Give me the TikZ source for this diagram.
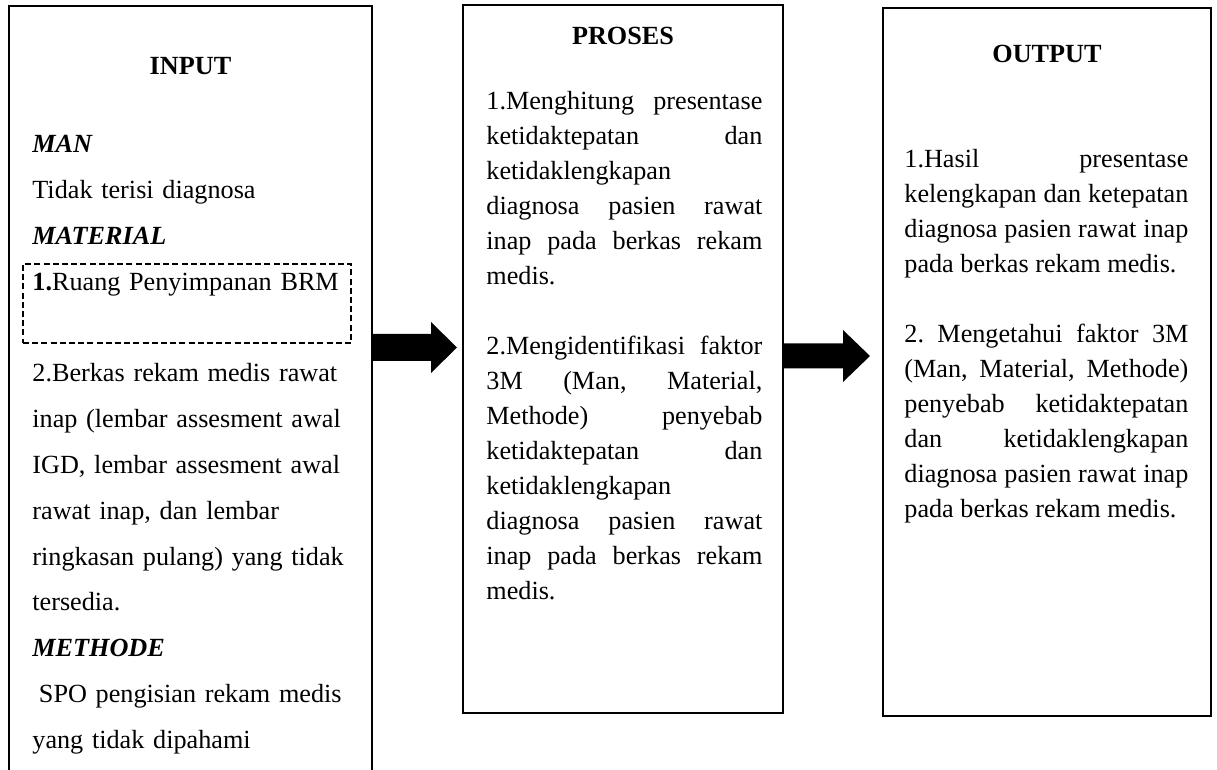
\documentclass[tikz,border=0pt]{standalone}
\usepackage{fontspec}
\setmainfont{Liberation Serif}
\hbadness=10000
\tolerance=10000
\hyphenpenalty=10000
\frenchspacing
\begin{document}
\begin{tikzpicture}[x=0.5pt, y=-0.5pt,
    box/.style={draw, line width=1pt, inner sep=0pt},
    title/.style={inner sep=0pt, anchor=base, font=\fontsize{13.1}{15}\selectfont\bfseries},
    body/.style={inner sep=0pt, anchor=base west, font=\fontsize{13.1}{17.5}\selectfont}]

    \useasboundingbox (0,0) rectangle (1217,770);

    % Boxes
    \node[box, minimum width=181.5pt, minimum height=450pt] (input) at (190.5,456) {};
    \node[box, minimum width=160pt, minimum height=354pt] (proses) at (623,359) {};
    \node[box, minimum width=164pt, minimum height=354pt] (output) at (1047,362) {};
    \node[draw, line width=0.75pt, dash pattern=on 3pt off 1.6pt, minimum width=164pt, minimum height=39.5pt] (brm) at (187,303.5) {};

    % Titles
    \node[title] (tin) at (190.5,75) {INPUT};
    \node[title] (tpro) at (623,45) {PROSES};
    \node[title] (tout) at (1047,63) {OUTPUT};

    % Input
    \node[body, text width=165pt, align=left, font=\fontsize{13.1}{22.9}\selectfont] (inlist) at (32,153) {%
        \textbf{\textit{MAN}}\\
        Tidak terisi diagnosa\\
        \textbf{\textit{MATERIAL}}\\
        \textbf{1.}Ruang Penyimpanan BRM\\[22.9pt]
        2.Berkas rekam medis rawat\\
        inap (lembar assesment awal\\
        IGD, lembar assesment awal\\
        rawat inap, dan lembar\\
        ringkasan pulang) yang tidak\\
        tersedia.\\
        \textbf{\textit{METHODE}}\\
        \hspace*{0.25em}SPO pengisian rekam medis\\
        yang tidak dipahami};

    % Proses
    \node[body, text width=138pt, align=justify] (prolist) at (486,110) {%
        1.Menghitung presentase \linebreak ketidaktepatan dan \linebreak ketidaklengkapan \linebreak
        diagnosa pasien rawat \linebreak inap pada berkas rekam \linebreak medis.\par
        \vspace{\baselineskip}
        2.Mengidentifikasi faktor \linebreak 3M (Man, Material, \linebreak Methode) penyebab \linebreak
        ketidaktepatan dan \linebreak ketidaklengkapan \linebreak diagnosa pasien rawat \linebreak
        inap pada berkas rekam \linebreak medis.};

    % Output
    \node[body, text width=142pt, align=justify] (outlist) at (904,168) {%
        1.Hasil presentase \linebreak kelengkapan dan ketepatan \linebreak diagnosa pasien rawat inap \linebreak
        pada berkas rekam medis.\par
        \vspace{\baselineskip}
        2. Mengetahui faktor 3M \linebreak (Man, Material, Methode) \linebreak penyebab ketidaktepatan \linebreak
        dan ketidaklengkapan \linebreak diagnosa pasien rawat inap \linebreak pada berkas rekam medis.};

    % Arrows
    \fill (input.east |- 0,334) -- (431,334) -- (431,322) -- (457,347.5) -- (431,373) -- (431,361) -- (input.east |- 0,361) -- cycle;
    \fill (proses.east |- 0,343.5) -- (843,343.5) -- (843,330) -- (870,356) -- (843,382) -- (843,368.5) -- (proses.east |- 0,368.5) -- cycle;

\end{tikzpicture}
\end{document}
